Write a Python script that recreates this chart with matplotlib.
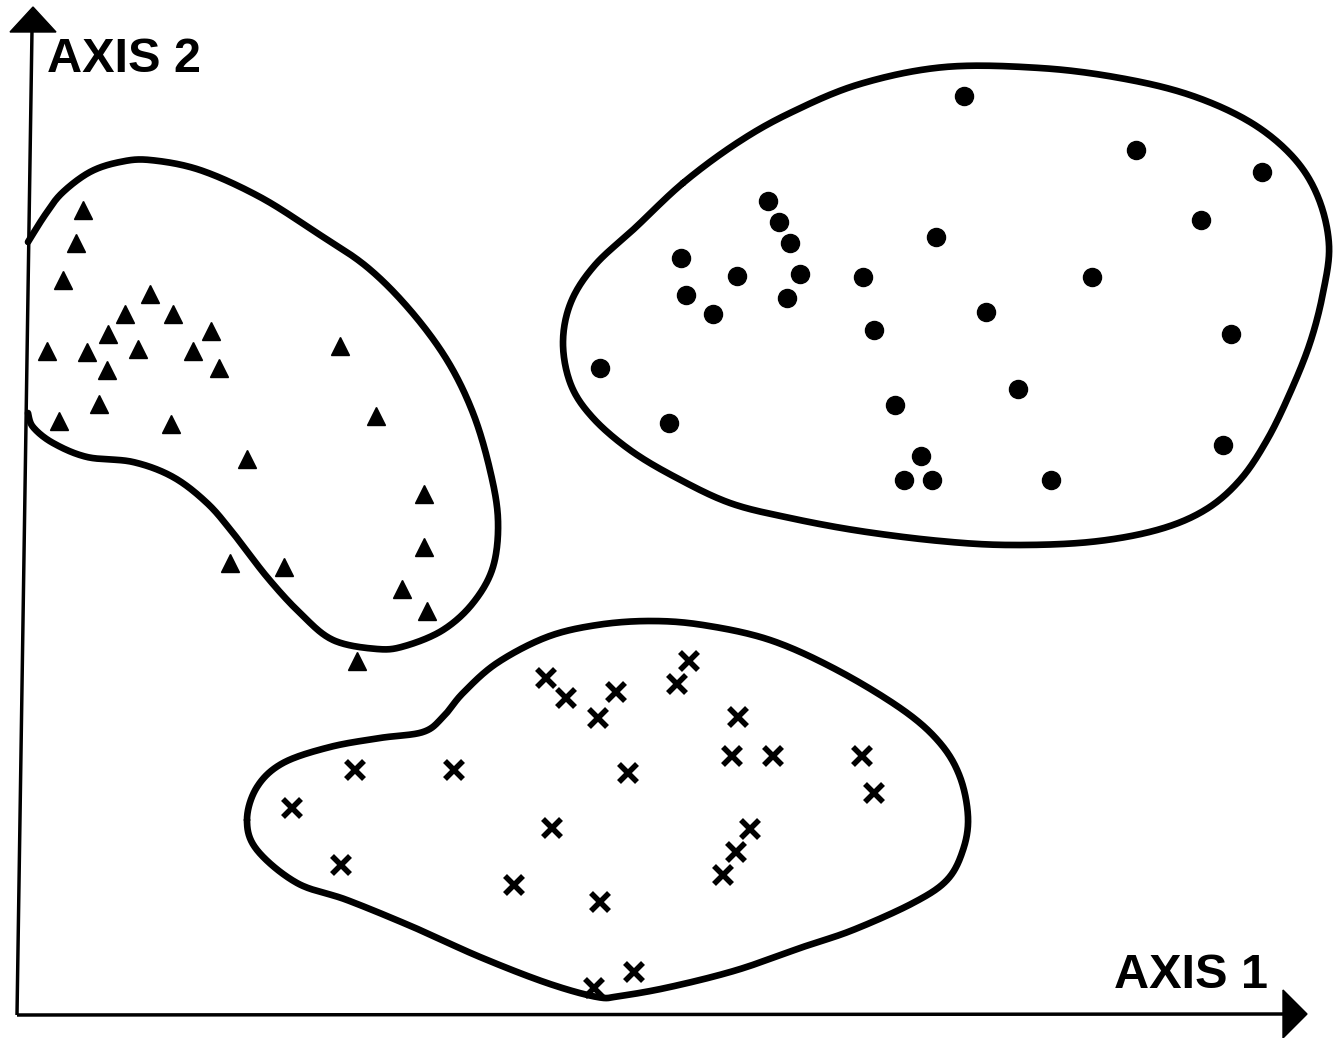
import numpy as np
import matplotlib
matplotlib.use("Agg")
import matplotlib.pyplot as plt

# group 1: triangles (x, y in picture units, y grows downward)
tri_x = [83, 76, 63, 150, 125, 173, 108, 211, 47, 87, 138, 193, 107, 219, 340,
         99, 59, 171, 376, 247, 424, 424, 230, 284, 402, 427, 357]
tri_y = [210, 243, 280, 294, 314, 314, 334, 331, 351, 352, 349, 351, 370, 368, 346,
         404, 421, 424, 416, 459, 494, 547, 563, 567, 589, 611, 661]

# group 2: dots
dot_x = [964, 1136, 1262, 768, 779, 790, 1201, 936, 681, 737, 800, 863, 1092,
         686, 787, 713, 986, 874, 1231, 600, 1018, 895, 669, 1223, 921, 904, 932, 1051]
dot_y = [96, 150, 172, 201, 222, 243, 220, 237, 258, 276, 274, 277, 277,
         295, 298, 314, 312, 330, 334, 368, 389, 405, 423, 445, 456, 480, 480, 480]

# group 3: crosses
crs_x = [689, 677, 546, 566, 616, 598, 738, 732, 773, 862, 874, 355, 454, 628,
         292, 552, 750, 736, 723, 341, 514, 600, 634, 594]
crs_y = [661, 684, 678, 698, 692, 718, 717, 756, 756, 756, 793, 770, 770, 773,
         808, 828, 829, 852, 875, 865, 885, 902, 972, 988]

# group outlines
blob1 = [(28, 242), (45, 215), (62, 193), (90, 172), (120, 162), (150, 160), (200, 170),
         (260, 197), (317, 233), (367, 267), (410, 310), (447, 360), (473, 413),
         (490, 470), (498, 520), (493, 567), (473, 603), (443, 630), (405, 646),
         (377, 649), (333, 640), (300, 613), (267, 577), (233, 533), (207, 503),
         (173, 477), (133, 462), (87, 457), (53, 443), (33, 427), (28, 413)]
blob2 = [(683, 183), (737, 143), (790, 113), (860, 84), (945, 67), (1040, 68),
         (1120, 78), (1190, 95), (1250, 122), (1293, 157), (1318, 197),
         (1329, 245), (1323, 293), (1310, 343), (1290, 393), (1267, 440), (1240, 480),
         (1205, 510), (1157, 530), (1090, 542), (1010, 545), (940, 541), (860, 531),
         (790, 518), (730, 503), (675, 477), (630, 450), (593, 418), (571, 385),
         (563, 343), (571, 302), (595, 265), (635, 228)]
blob3 = [(247, 820), (257, 787), (283, 763), (330, 747), (380, 738), (423, 732),
         (443, 717), (463, 693), (497, 663), (547, 637), (597, 625), (650, 621),
         (703, 625), (770, 640), (837, 670), (903, 710), (940, 743), (960, 777),
         (968, 817), (963, 850), (947, 880), (913, 903), (853, 930), (803, 947),
         (737, 970), (670, 987), (620, 996), (597, 997), (547, 983), (480, 957),
         (413, 927), (347, 900), (297, 883), (257, 850)]


def smooth(pts, closed=True, n=30):
    # catmull-rom spline through the outline points
    P = np.asarray(pts, float)
    if closed:
        P = np.vstack([P[-1], P, P[0], P[1]])
    else:
        P = np.vstack([P[0], P, P[-1]])
    t = np.linspace(0, 1, n, endpoint=False)[:, None]
    out = []
    for i in range(1, len(P) - 2):
        p0, p1, p2, p3 = P[i - 1], P[i], P[i + 1], P[i + 2]
        seg = 0.5 * (2 * p1 + (-p0 + p2) * t + (2 * p0 - 5 * p1 + 4 * p2 - p3) * t ** 2
                     + (-p0 + 3 * p1 - 3 * p2 + p3) * t ** 3)
        out.append(seg)
    out.append(P[-2][None])
    return np.vstack(out)


fig = plt.figure(figsize=(13.43, 10.38), dpi=100)
ax = fig.add_axes([0, 0, 1, 1])
ax.set_xlim(0, 1343)
ax.set_ylim(1038, 0)
ax.axis('off')

# axes lines + arrow heads
ax.plot([17, 32], [1015, 30], color='black', lw=2.5, solid_capstyle='butt')
ax.plot([17, 1290], [1015, 1014], color='black', lw=2.5, solid_capstyle='butt')
ax.fill([33, 10, 56], [7, 32, 32], color='black')
ax.fill([1307, 1283, 1283], [1014, 990, 1038], color='black')
ax.text(47, 60, 'AXIS 2', fontsize=35, fontweight='bold', family='Liberation Sans',
        va='center', ha='left')
ax.text(1114, 976, 'AXIS 1', fontsize=35, fontweight='bold', family='Liberation Sans',
        va='center', ha='left')

# outlines
for pts, closed in [(blob1, False), (blob2, True), (blob3, True)]:
    c = smooth(pts, closed)
    ax.plot(c[:, 0], c[:, 1], color='black', lw=4.8, solid_capstyle='round',
            solid_joinstyle='round')

ax.plot(tri_x, tri_y, ls='none', marker='^', ms=13, color='black')
ax.plot(dot_x, dot_y, ls='none', marker='o', ms=13, color='black')
ax.plot(crs_x, crs_y, ls='none', marker='x', ms=12.5, mew=4.0, color='black')

fig.savefig('out.png', dpi=100, facecolor='white')
